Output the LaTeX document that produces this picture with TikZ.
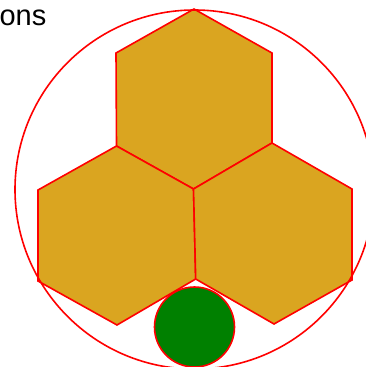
\documentclass[tikz,border=0pt]{standalone}
\usepackage{fontspec}
\setmainfont{Liberation Sans}
\definecolor{hexgold}{RGB}{218,165,32}
\definecolor{dotgreen}{RGB}{0,128,0}
\tikzset{
  hexa/.style={fill=hexgold, draw=red, line width=1.6pt, line join=miter},
  ring/.style={draw=red, line width=1.6pt},
  dot/.style={circle, fill=dotgreen, draw=red, line width=1.6pt, inner sep=0pt, minimum size=80pt},
  titletext/.style={font=\fontsize{29}{32}\selectfont, inner sep=0pt, anchor=base east}
}
\begin{document}
\begin{tikzpicture}[x=1pt,y=-1pt]
\useasboundingbox (0,0) rectangle (366,367);
\clip (0,0) rectangle (366,367);
\fill[white] (0,0) rectangle (366,367);
\node[titletext] (title) at (46.5,25) {ons};
% hexagons
\draw[hexa] (194,9) -- (116,53) -- (116.5,146) -- (193.5,189) -- (272,143) -- (272,53) -- cycle;
\draw[hexa] (116.5,146) -- (38,190) -- (38,281) -- (117,325) -- (195.7,279) -- (193.5,189) -- cycle;
\draw[hexa] (272,143) -- (352,189) -- (352,280) -- (274,324) -- (195.7,279) -- (193.5,189) -- cycle;
% big circle
\node[ring, circle, minimum size=359pt, inner sep=0pt] (outer) at (194.5,189.5) {};
% green dot
\node[dot] (green) at (194.5,327) {};
\end{tikzpicture}
\end{document}
